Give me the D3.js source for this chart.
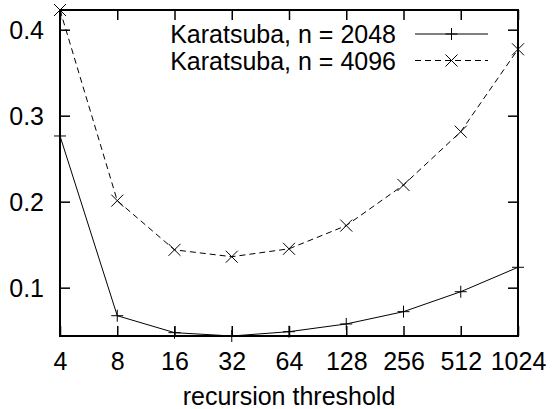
<!DOCTYPE html>
<html lang="en">
<head>
<meta charset="utf-8">
<title>Karatsuba recursion threshold</title>
<script src="https://cdn.jsdelivr.net/npm/d3@7"></script>
<style>
  body { margin: 0; background: #fff; }
  svg { display: block; font-family: "Liberation Sans", Arial, sans-serif; }
</style>
</head>
<body>
<svg></svg>
<script>
    const thresholds = [4, 8, 16, 32, 64, 128, 256, 512, 1024]
    const time2048 = [0.2764, 0.0674, 0.0477, 0.0438, 0.0488, 0.0578, 0.0721, 0.0953, 0.1237]
    const time4096 = [0.4229, 0.2012, 0.1440, 0.1360, 0.1452, 0.1722, 0.2194, 0.2814, 0.3772]
    const yTicks = [0.1, 0.2, 0.3, 0.4]
    const seriesNames = ["Karatsuba, n = 2048", "Karatsuba, n = 4096"]
    const xTitle = "recursion threshold"

    const width = 552
    const height = 409
    const margin = ({top: 10, right: 34, bottom: 73, left: 60})
    const fontSize = 25
    const tickLen = 10

    const x = d3.scaleLog().base(2)
        .domain(d3.extent(thresholds))
        .range([margin.left, width - margin.right])

    const y = d3.scaleLinear()
        .domain(d3.extent([...time2048, ...time4096]))
        .range([height - margin.bottom, margin.top])

    const svg = d3.select("svg")
        .attr("width", width)
        .attr("height", height)
        .attr("viewBox", [0, 0, width, height])

    const styleAxis = g => {
        g.select(".domain").remove()
        g.selectAll(".tick line").attr("stroke-width", 1.5)
        g.selectAll("text")
            .attr("font-size", fontSize)
            .attr("font-family", "Liberation Sans, Arial, sans-serif")
            .attr("fill", "#000")
    }

    // bottom + top
    svg.append("g")
        .attr("transform", `translate(0,${height - margin.bottom})`)
        .call(d3.axisBottom(x).tickValues(thresholds).tickFormat(d3.format("d"))
            .tickSizeInner(-tickLen).tickSizeOuter(0).tickPadding(16))
        .call(styleAxis)

    svg.append("g")
        .attr("transform", `translate(0,${margin.top})`)
        .call(d3.axisTop(x).tickValues(thresholds).tickFormat("")
            .tickSizeInner(-tickLen).tickSizeOuter(0))
        .call(styleAxis)

    // left + right
    svg.append("g")
        .attr("transform", `translate(${margin.left},0)`)
        .call(d3.axisLeft(y).tickValues(yTicks).tickFormat(d3.format(".1f"))
            .tickSizeInner(-tickLen).tickSizeOuter(0).tickPadding(16))
        .call(styleAxis)
        .call(g => g.selectAll("text").attr("dy", "0.36em"))

    svg.append("g")
        .attr("transform", `translate(${width - margin.right},0)`)
        .call(d3.axisRight(y).tickValues(yTicks).tickFormat("")
            .tickSizeInner(-tickLen).tickSizeOuter(0))
        .call(styleAxis)

    // frame
    svg.append("rect")
        .attr("x", margin.left)
        .attr("y", margin.top)
        .attr("width", width - margin.left - margin.right)
        .attr("height", height - margin.top - margin.bottom)
        .attr("fill", "none")
        .attr("stroke", "#000")
        .attr("stroke-width", 2)

    svg.append("text")
        .attr("x", (margin.left + width - margin.right) / 2)
        .attr("y", height - 4)
        .attr("text-anchor", "middle")
        .attr("font-size", fontSize)
        .text(xTitle)

    const plusPath = "M-6,0H6M0,-6V6"
    const crossPath = "M-6,-6L6,6M-6,6L6,-6"

    const series = [
        {name: seriesNames[0], values: time2048, dash: null, marker: plusPath},
        {name: seriesNames[1], values: time4096, dash: "6,4", marker: crossPath}
    ]

    const line = d3.line()
        .x((d, i) => x(thresholds[i]))
        .y(d => y(d))

    series.forEach((s, k) => {
        svg.append("path")
            .datum(s.values)
            .attr("fill", "none")
            .attr("stroke", "#000")
            .attr("stroke-width", 1)
            .attr("stroke-dasharray", s.dash)
            .attr("d", line)

        svg.append("g")
            .selectAll("path")
            .data(s.values)
            .join("path")
            .attr("transform", (d, i) => `translate(${x(thresholds[i])},${y(d)})`)
            .attr("d", s.marker)
            .attr("stroke", "#000")
            .attr("stroke-width", 1)

        // key
        const ky = 34 + k * 26.5
        svg.append("text")
            .attr("x", 396)
            .attr("y", ky)
            .attr("dy", "0.36em")
            .attr("text-anchor", "end")
            .attr("font-size", fontSize)
            .text(s.name)

        svg.append("line")
            .attr("x1", 415)
            .attr("x2", 488)
            .attr("y1", ky)
            .attr("y2", ky)
            .attr("stroke", "#000")
            .attr("stroke-width", 1)
            .attr("stroke-dasharray", s.dash)

        svg.append("path")
            .attr("transform", `translate(451.5,${ky})`)
            .attr("d", s.marker)
            .attr("stroke", "#000")
            .attr("stroke-width", 1)
    })
</script>
</body>
</html>
